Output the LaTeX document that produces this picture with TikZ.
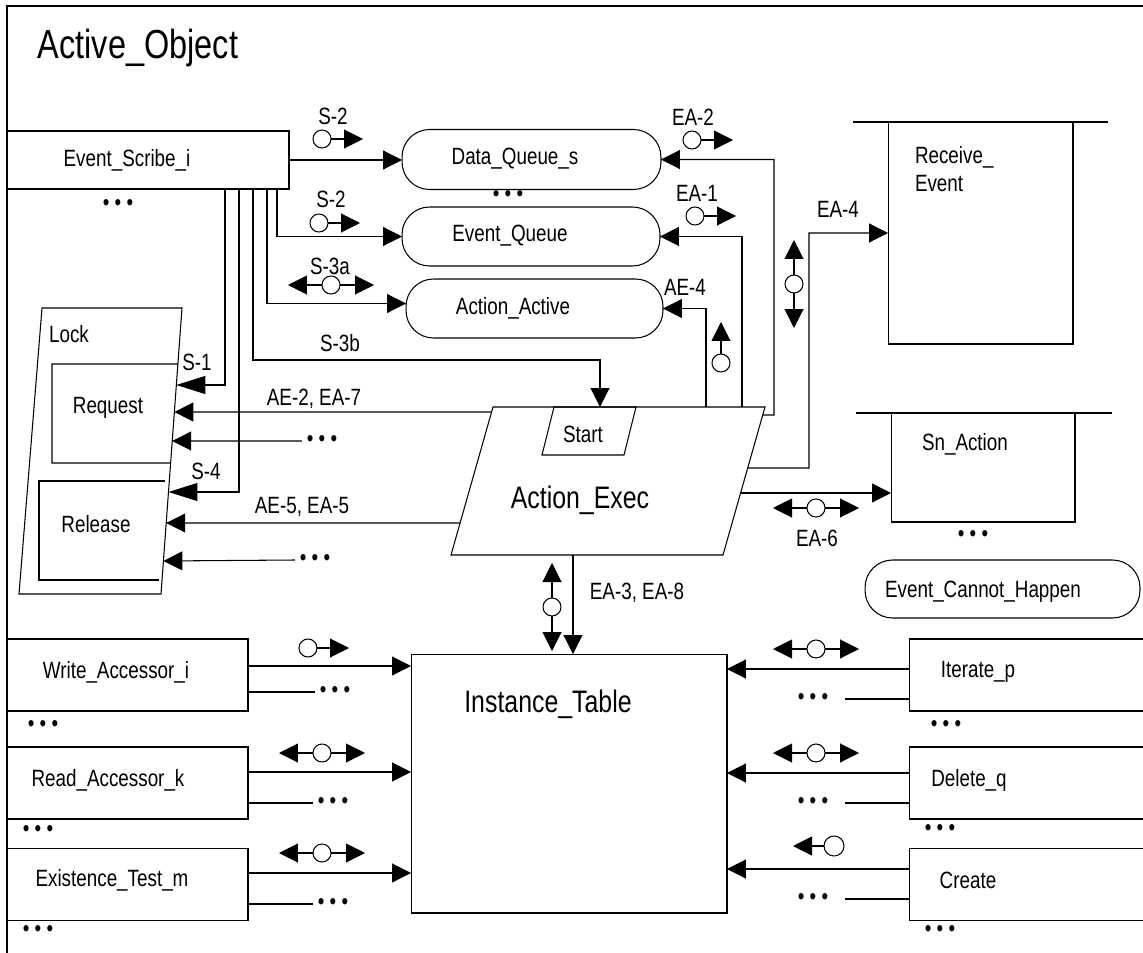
\documentclass[tikz,border=0pt]{standalone}
\usepackage{fontspec}
\setmainfont{Liberation Sans}[FakeStretch=0.8]
\usepackage{tikz}
\usetikzlibrary{arrows.meta, calc}

\begin{document}
\begin{tikzpicture}[
    x=0.02cm, y=-0.02cm,
    line width=0.6pt,
    font=\fontsize{13.4}{16}\selectfont,
    every node/.style={inner sep=0pt, outer sep=0pt},
    box/.style 2 args={draw, minimum width=#1, minimum height=#2},
    queue/.style 2 args={draw, rounded corners=0.55cm, minimum width=#1, minimum height=#2},
    big/.style={font=\fontsize{17.7}{21}\selectfont},
    dots/.style={inner sep=0.1cm},
    Tri/.tip={Triangle[length=0.38cm, width=0.38cm]},
    TriL/.tip={Triangle[length=0.58cm, width=0.36cm]},
    arr/.style={-Tri},
    flowout/.pic={\draw[fill=white] (0,0) circle (9); \draw[-Tri] (9,0) -- (41,0);},
    flowback/.pic={\draw[fill=white] (0,0) circle (10); \draw[-Tri] (-10,0) -- (-41,0);},
    flowboth/.pic={\draw[Tri-Tri] (-43,0) -- (43,0); \draw[fill=white] (0,0) circle (9);},
    flowup/.pic={\draw[fill=white] (0,0) circle (9); \draw[-Tri] (0,-9) -- (0,-41);},
    flowvert/.pic={\draw[Tri-Tri] (0,-44) -- (0,44); \draw[fill=white] (0,0) circle (9);}
]
\useasboundingbox (0,0) rectangle (1143,953);
\clip (0,0) rectangle (1143,953);

% frame
\draw (7,953) -- (7,6) -- (1143,6);
\node[font=\fontsize{23.1}{28}\selectfont] (title) at (138,48) {Active\_Object};

% scribe and queues
\node[box={5.64cm}{1.16cm}] (es) at (148,160) {};
\node (es-t) at (127,160) {Event\_Scribe\_i};
\node[dots] (es-d) at (118,205) {• • •};

\node[queue={5.18cm}{1.2cm}] (dq) at (531.5,159.5) {};
\node (dq-t) at (515,159) {Data\_Queue\_s};
\node[dots] (dq-d) at (508,196) {• • •};
\node[queue={5.16cm}{1.18cm}] (eq) at (531,236.5) {};
\node (eq-t) at (510,236) {Event\_Queue};
\node[queue={5.14cm}{1.18cm}] (aa) at (534.5,308.5) {};
\node (aa-t) at (513,308) {Action\_Active};

% states on the right
\node[box={3.7cm}{4.44cm}] (re) at (980.5,233) {};
\draw ([xshift=-0.7cm]re.north west) -- ([xshift=0.7cm]re.north east);
\node[anchor=west, align=left] (re-t) at (915,169) {Receive\_\\Event};
\node[box={3.68cm}{2.18cm}] (sn) at (983,467.5) {};
\draw ([xshift=-0.7cm]sn.north west) -- ([xshift=0.74cm]sn.north east);
\node[anchor=west] (sn-t) at (922,444) {Sn\_Action};
\node[dots] (sn-d) at (973,536) {• • •};
\node[queue={5.5cm}{1.16cm}] (ecp) at (1002.5,589) {};
\node (ecp-t) at (983,592) {Event\_Cannot\_Happen};

% lock
\coordinate (lk-tl) at (42,308);
\coordinate (lk-tr) at (182,308);
\coordinate (lk-br) at (161,594);
\coordinate (lk-bl) at (19,594);
\draw (lk-tl) -- (lk-tr) -- (lk-br) -- (lk-bl) -- cycle;
\node (lk-t) at (69,334) {Lock};
\draw ($(lk-tr)!{56/286}!(lk-br)$) -- (52,364) -- (52,463) -- ($(lk-tr)!{155/286}!(lk-br)$);
\node (rq-t) at (108,408) {Request};
\draw (165,481) -- (39,481) -- (39,580) -- (159,580);
\node (rl-t) at (96,524) {Release};
\foreach \n/\y in {s1/385, ae2/412, d1/441, s4/492, ae5/523, d2/561}
    \coordinate (lk-\n) at ($(lk-tr)!{(\y-308)/286}!(lk-br)$);

% action exec
\coordinate (ax-tl) at (493,407);
\coordinate (ax-tr) at (765,407);
\coordinate (ax-br) at (723,555);
\coordinate (ax-bl) at (451,555);
\draw (ax-tl) -- (ax-tr) -- (ax-br) -- (ax-bl) -- cycle;
\node[big] (ax) at (580,500) {Action\_Exec};
\coordinate (st-tl) at (554,407);
\coordinate (st-tr) at (636,407);
\coordinate (st-br) at (624,455);
\coordinate (st-bl) at (542,455);
\draw (st-tl) -- (st-tr) -- (st-br) -- (st-bl) -- cycle;
\node (st) at (583,434) {Start};
\coordinate (ax-ae2) at ($(ax-tl)!{5/148}!(ax-bl)$);
\coordinate (ax-ae5) at ($(ax-tl)!{116/148}!(ax-bl)$);
\coordinate (ax-dq) at ($(ax-tr)!{8/148}!(ax-br)$);
\coordinate (ax-ea4) at ($(ax-tr)!{61/148}!(ax-br)$);
\coordinate (ax-sn) at ($(ax-tr)!{86/148}!(ax-br)$);

% instance table and accessors
\node[box={6.32cm}{5.18cm}] (it) at (569,783.5) {};
\node[big] (it-t) at (548,704) {Instance\_Table};

\node[box={4.82cm}{1.44cm}] (wa) at (127.5,675) {};
\node (wa-t) at (116,672) {Write\_Accessor\_i};
\node[dots] (wa-d) at (43,726) {• • •};
\node[box={4.82cm}{1.44cm}] (rk) at (127.5,783) {};
\node (rk-t) at (108,780) {Read\_Accessor\_k};
\node[dots] (rk-d) at (38,831) {• • •};
\node[box={4.82cm}{1.44cm}] (et) at (127.5,884.5) {};
\node (et-t) at (112,880) {Existence\_Test\_m};
\node[dots] (et-d) at (38,931) {• • •};

\node[box={5.2cm}{1.44cm}] (ip) at (1039,675) {};
\node (ip-t) at (978,672) {Iterate\_p};
\node[dots] (ip-d) at (946,726) {• • •};
\node[box={5.2cm}{1.44cm}] (dl) at (1039,783) {};
\node (dl-t) at (969,780) {Delete\_q};
\node[dots] (dl-d) at (940,830) {• • •};
\node[box={5.2cm}{1.44cm}] (cr) at (1039,884.5) {};
\node (cr-t) at (968,880) {Create};
\node[dots] (cr-d) at (940,931) {• • •};

% connectors from the scribe
\draw[arr] (es.east) -- (es.east -| dq.west);
\draw[arr] (277,0 |- es.south) |- (eq.west);
\draw[arr] (267,0 |- es.south) |- ([yshift=0.1cm]aa.west);
\draw[arr] (253,0 |- es.south) |- (600,360) -- (600,0 |- st-tl);
\draw[-TriL] (239,0 |- es.south) |- (lk-s4);
\draw[-TriL] (225,0 |- es.south) |- (lk-s1);

% connectors from action exec
\draw[arr] (ax-ae2) -- (lk-ae2);
\node[dots] (lk-d1t) at (322,441) {• • •};
\draw[arr] (lk-d1t.west) -- (lk-d1);
\draw[arr] (ax-ae5) -- (lk-ae5);
\node[dots] (lk-d2t) at (315,560) {• • •};
\draw[arr] (lk-d2t.west) -- (lk-d2);
\draw[arr] (706,0 |- ax-tl) |- (aa.east);
\draw[arr] (742,0 |- ax-tl) |- (eq.east);
\draw[arr] (ax-dq) -- (774,415) |- (dq.east);
\draw[arr] (ax-ea4) -- (809,468) |- (re.west);
\draw[arr] (ax-sn) -- (ax-sn -| sn.west);
\draw[arr] (573,0 |- ax-bl) -- (573,0 |- it.north);

% connectors into the table
\draw[arr] (wa.east |- 0,666) -- (it.west |- 0,666);
\draw[arr] (rk.east |- 0,772) -- (it.west |- 0,772);
\draw[arr] (et.east |- 0,873) -- (it.west |- 0,873);
\draw[arr] (ip.west |- 0,669) -- (it.east |- 0,669);
\draw[arr] (dl.west |- 0,773) -- (it.east |- 0,773);
\draw[arr] (cr.west |- 0,869) -- (it.east |- 0,869);
\node[dots] (wa-d2) at (335,692) {• • •};
\draw (wa.east |- wa-d2) -- (wa-d2.west);
\node[dots] (rk-d2) at (333,803) {• • •};
\draw (rk.east |- rk-d2) -- (rk-d2.west);
\node[dots] (et-d2) at (333,904) {• • •};
\draw (et.east |- et-d2) -- (et-d2.west);
\node[dots] (ip-d2) at (813,699) {• • •};
\draw (ip.west |- ip-d2) -- ([xshift=0.24cm]ip-d2.east);
\node[dots] (dl-d2) at (813,803) {• • •};
\draw (dl.west |- dl-d2) -- ([xshift=0.24cm]dl-d2.east);
\node[dots] (cr-d2) at (813,899) {• • •};
\draw (cr.west |- cr-d2) -- ([xshift=0.24cm]cr-d2.east);

% flow labels
\node (l-s2a) at (333,116) {S-2};
\node (l-s2b) at (331,199) {S-2};
\node (l-s3a) at (330,266) {S-3a};
\node (l-s3b) at (340,343) {S-3b};
\node (l-s1) at (197,362) {S-1};
\node (l-s4) at (206,471) {S-4};
\node (l-ae2) at (314,399) {AE-2, EA-7};
\node (l-ae5) at (302,507) {AE-5, EA-5};
\node (l-ea2) at (693,117) {EA-2};
\node (l-ea1) at (697,193) {EA-1};
\node (l-ae4) at (685,287) {AE-4};
\node (l-ea4) at (838,209) {EA-4};
\node (l-ea6) at (817,538) {EA-6};
\node (l-ea3) at (637,593) {EA-3, EA-8};

% data couples
\pic at (322,139) {flowout};
\pic at (319,223) {flowout};
\pic at (331,285) {flowboth};
\pic at (692,140) {flowout};
\pic at (695,216) {flowout};
\pic at (721,363) {flowup};
\pic at (794,284) {flowvert};
\pic at (816,508) {flowboth};
\pic at (552,607) {flowvert};
\pic at (308,648) {flowout};
\pic at (322,753) {flowboth};
\pic at (322,853) {flowboth};
\pic at (816,649) {flowboth};
\pic at (816,753) {flowboth};
\pic at (834,846) {flowback};

\end{tikzpicture}
\end{document}
